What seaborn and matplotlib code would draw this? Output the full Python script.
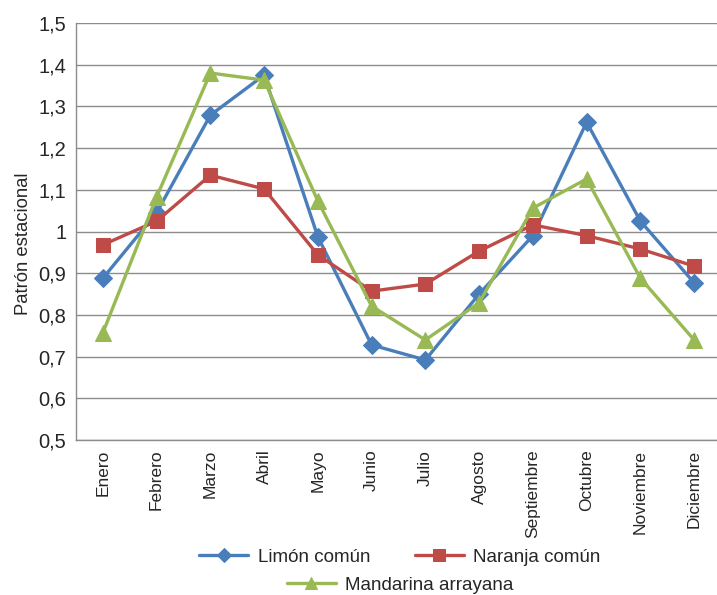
import pandas as pd
import seaborn as sns
import matplotlib.pyplot as plt
from matplotlib.ticker import FuncFormatter

# datos
meses = ['Enero', 'Febrero', 'Marzo', 'Abril', 'Mayo', 'Junio', 'Julio',
         'Agosto', 'Septiembre', 'Octubre', 'Noviembre', 'Diciembre']
limon = [0.888, 1.045, 1.279, 1.375, 0.987, 0.728, 0.692, 0.850, 0.990, 1.262, 1.025, 0.877]
naranja = [0.968, 1.025, 1.135, 1.102, 0.944, 0.857, 0.874, 0.953, 1.016, 0.990, 0.958, 0.917]
mandarina = [0.757, 1.083, 1.380, 1.363, 1.073, 0.821, 0.740, 0.829, 1.056, 1.126, 0.888, 0.740]

sns.set_style('white')
plt.rcParams['font.family'] = ['Liberation Sans', 'DejaVu Sans']

fig = plt.figure(figsize=(7.17, 5.95), dpi=100)
ax = fig.add_axes([76 / 717, 1 - 440 / 595, 645 / 717, 417 / 595])

series = [
    ('Limón común', limon, '#4A7EBB', 'D', 9.5),
    ('Naranja común', naranja, '#BE4B48', 's', 10.5),
    ('Mandarina arrayana', mandarina, '#98B954', '^', 11.5),
]
for nombre, valores, color, marcador, tam in series:
    df = pd.DataFrame({'mes': meses, 'valor': valores})
    sns.lineplot(data=df, x='mes', y='valor', sort=False, ax=ax, color=color,
                 marker=marcador, markersize=tam, markeredgecolor=color,
                 linewidth=2.4, label=nombre)


def coma(v, pos):
    if abs(v - 1) < 1e-9:
        return '1'
    return f'{v:.1f}'.replace('.', ',')


ax.set_ylim(0.5, 1.5)
ax.set_xlim(-0.5, 11.5)
ax.set_yticks([0.5 + 0.1 * i for i in range(11)])
ax.yaxis.set_major_formatter(FuncFormatter(coma))
ax.grid(axis='y', color='#8c8c8c', linewidth=1)
ax.set_axisbelow(True)
for lado in ['top', 'right']:
    ax.spines[lado].set_visible(False)
for lado in ['left', 'bottom']:
    ax.spines[lado].set_color('#8c8c8c')
    ax.spines[lado].set_linewidth(1)
ax.tick_params(axis='x', labelrotation=90, labelsize=12.5, length=0, pad=7)
ax.tick_params(axis='y', labelsize=14.5, length=0, pad=7)
ax.set_xlabel('')
ax.set_ylabel('Patrón estacional', fontsize=13.3, labelpad=4)
ax.yaxis.set_label_coords(-0.068, 0.47)

# leyenda en dos filas centradas
handles, labels = ax.get_legend_handles_labels()
ax.get_legend().remove()
leg1 = fig.legend(handles[:2], labels[:2], ncol=2, loc='center', bbox_to_anchor=(400 / 717, 1 - 557 / 595),
                  frameon=False, fontsize=13.5, handlelength=2.6, columnspacing=2.4, handletextpad=0.5,
                  borderpad=0, borderaxespad=0, markerscale=0.8)
leg2 = fig.legend(handles[2:], labels[2:], loc='center', bbox_to_anchor=(400 / 717, 1 - 585 / 595),
                  frameon=False, fontsize=13.5, handlelength=2.6, handletextpad=0.5,
                  borderpad=0, borderaxespad=0, markerscale=0.8)

plt.savefig('out.png', dpi=100)
plt.close()
